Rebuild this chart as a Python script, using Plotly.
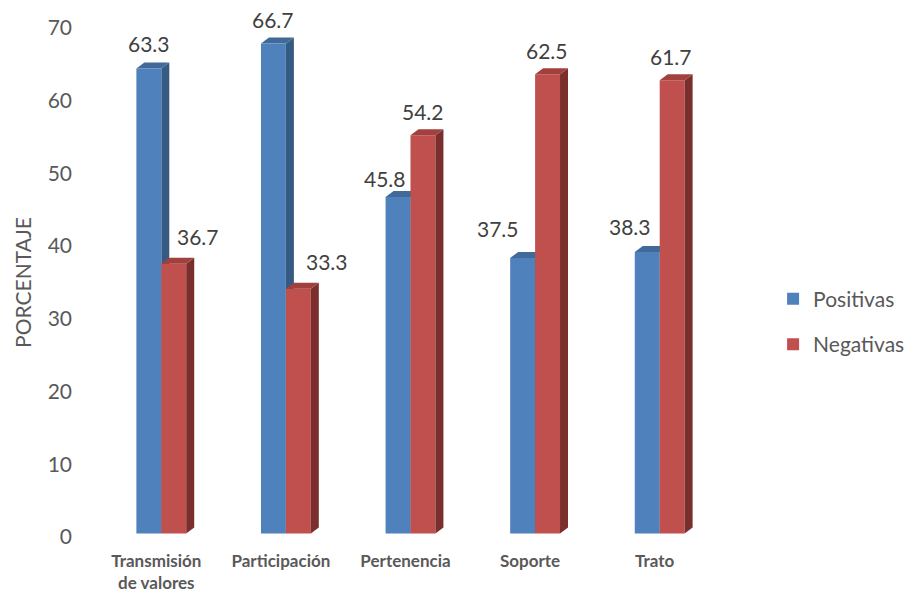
import plotly.graph_objects as go

# ---- data ----
categories = ["Transmisión<br>de valores", "Participación", "Pertenencia", "Soporte", "Trato"]
positivas = [63.3, 66.7, 45.8, 37.5, 38.3]
negativas = [36.7, 33.3, 54.2, 62.5, 61.7]
series_names = ["Positivas", "Negativas"]
tick_values = [0, 10, 20, 30, 40, 50, 60, 70]

# ---- style / layout constants ----
W, H = 905, 595
M_L, M_R, M_T, M_B = 99, 183, 28, 58
plot_w = W - M_L - M_R
plot_h = H - M_T - M_B
bargap = 0.6
bar_axis_range = [-0.48, 68.8]      # front plane of the 3D bars
tick_axis_range = [0, 70]           # back wall (tick labels)
depth_px_x, depth_px_y = 8, 6

front = ["#4F81BD", "#C0504D"]
top = ["#41699A", "#A1403D"]
side = ["#375A82", "#7B2F2D"]

# label offsets (pixels) relative to bar front top centre
label_dx = [[0, 0, -13, -25, -17], [24, 29, 0, -1, -1]]
label_dy = [[25, 24, 18, 29, 26], [27, 27, 24, 24, 24]]

px_per_unit = plot_h / (bar_axis_range[1] - bar_axis_range[0])
dy_data = depth_px_y / px_per_unit
bar_w = plot_w / len(categories) * (1 - bargap) / 2

fig = go.Figure()
values = [positivas, negativas]
for s in range(2):
    fig.add_trace(go.Bar(
        x=categories, y=values[s], name=series_names[s],
        marker=dict(color=front[s], line=dict(width=0)),
        yaxis="y", hoverinfo="skip", legendgroup=series_names[s],
    ))
# empty trace so that the tick (back-wall) axis is drawn
fig.add_trace(go.Scatter(x=[], y=[], yaxis="y2", showlegend=False,
                         hoverinfo="skip", mode="markers"))

shapes = []
annotations = []
for s in range(2):
    L = -bar_w if s == 0 else 0
    R = 0 if s == 0 else bar_w
    layer = "below" if s == 0 else "above"
    for i, v in enumerate(values[s]):
        top_path = (f"M {L},{v} L {R},{v} L {R + depth_px_x},{v + dy_data} "
                    f"L {L + depth_px_x},{v + dy_data} Z")
        side_path = (f"M {R},0 L {R + depth_px_x},{dy_data} L {R + depth_px_x},{v + dy_data} "
                     f"L {R},{v} Z")
        for p, c in ((side_path, side[s]), (top_path, top[s])):
            shapes.append(dict(type="path", path=p, xref="x", yref="y",
                               xsizemode="pixel", xanchor=i,
                               fillcolor=c, line=dict(width=0), layer=layer))
        annotations.append(dict(
            x=categories[i], y=v, xref="x", yref="y",
            text=f"{v:.1f}", showarrow=False,
            xshift=(L + R) / 2 + label_dx[s][i], yshift=label_dy[s][i],
            yanchor="middle", xanchor="center",
            font=dict(family="Lato", size=21, color="#404040"),
        ))

fig.update_layout(
    width=W, height=H,
    margin=dict(l=M_L, r=M_R, t=M_T, b=M_B, autoexpand=False),
    paper_bgcolor="white", plot_bgcolor="white",
    barmode="group", bargap=bargap, bargroupgap=0,
    shapes=shapes, annotations=annotations,
    showlegend=True,
    legend=dict(x=1.082, y=0.423, xanchor="left", yanchor="middle",
                font=dict(family="Lato", size=21, color="#595959"),
                traceorder="grouped", tracegroupgap=15,
                bgcolor="rgba(0,0,0,0)"),
    xaxis=dict(type="category", showgrid=False, zeroline=False, showline=False,
               automargin=False,
               ticks="", ticklabelstandoff=12, ticklabelshift=-5,
               tickfont=dict(family="Lato", size=17, color="#595959", weight="bold")),
    yaxis=dict(range=bar_axis_range, showgrid=False, zeroline=False, automargin=False,
               showline=False, showticklabels=False, ticks=""),
    yaxis2=dict(range=tick_axis_range, overlaying="y", side="left", anchor="x",
                automargin=False,
                tickvals=tick_values, ticks="", showgrid=False, zeroline=False,
                showline=False, ticklabelstandoff=26,
                tickfont=dict(family="Lato", size=21, color="#595959"),
                title=dict(text="PORCENTAJE", standoff=10,
                           font=dict(family="Lato", size=21, color="#595959"))),
)

fig.write_html("out.html")
